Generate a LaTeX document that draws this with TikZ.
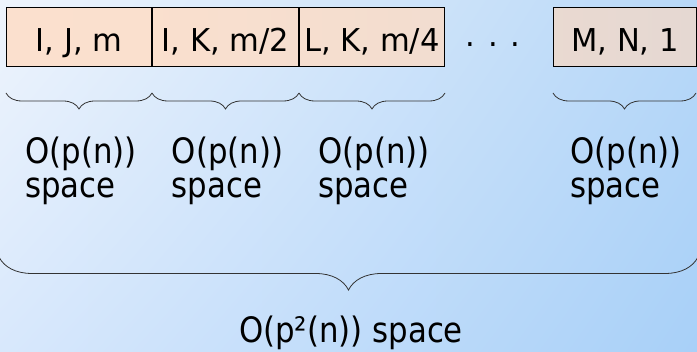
\documentclass[tikz,border=0pt]{standalone}
\usepackage{fontspec}
\setmainfont{DejaVu Sans}
\newfontfamily\cellfont{DejaVu Sans}[FakeStretch=0.97]
\newfontfamily\notefont{DejaVu Sans}[FakeStretch=0.88]
\usetikzlibrary{decorations.pathreplacing,calc,shadings}
\definecolor{bgA}{HTML}{EEF4FC}
\definecolor{bgB}{HTML}{B8D8F8}
\definecolor{bgC}{HTML}{D8E8FC}
\definecolor{bgD}{HTML}{A8D0F8}
\definecolor{peachL}{HTML}{FBE0CE}
\definecolor{peachR}{HTML}{E5D8D2}
\tikzset{
  cell/.style={draw=black, line width=1pt, minimum height=59pt, inner sep=0pt,
    text height=31pt, text depth=2pt, anchor=north west,
    font=\cellfont\fontsize{31.5}{34}\selectfont},
  curly/.style={decorate, decoration={brace, mirror, amplitude=#1},
    draw=black!80, line width=0.8pt},
  note/.style={align=left, anchor=north, inner sep=0pt,
    font=\notefont\fontsize{35}{34}\selectfont}
}
\begin{document}
\begin{tikzpicture}[x=1pt, y=1pt]
  \useasboundingbox (0,0) rectangle (697,352);
  \shade[upper left=bgA, upper right=bgB, lower left=bgC, lower right=bgD]
    (0,0) rectangle (697,352);
  % the cells
  \node[cell, minimum width=145pt, left color=peachL, right color=peachL!95!peachR] (c1) at (6,345) {I, J, m};
  \node[cell, minimum width=146pt, left color=peachL!95!peachR, right color=peachL!78!peachR] (c2) at (c1.north east) {I, K, m/2};
  \node[cell, minimum width=145pt, left color=peachL!78!peachR, right color=peachL!58!peachR] (c3) at (c2.north east) {L, K, m/4};
  \node[font=\cellfont\fontsize{31.5}{34}\selectfont, anchor=base] (dots) at (493,305) {. . .};
  \node[cell, minimum width=143pt, left color=peachL!20!peachR, right color=peachR] (c4) at (553,345) {M, N, 1};
  % small braces
  \coordinate (b0) at ($(c1.south west)+(0,-26)$);
  \coordinate (b1) at ($(c1.south east)+(0,-26)$);
  \coordinate (b2) at ($(c2.south east)+(0,-26)$);
  \coordinate (b3) at ($(c3.south east)+(0,-26)$);
  \coordinate (b4) at ($(c4.south west)+(0,-26)$);
  \coordinate (b5) at ($(c4.south east)+(-1,-26)$);
  \draw[curly=16pt] (b0) -- (b1);
  \draw[curly=16pt] (b1) -- (b2);
  \draw[curly=16pt] (b2) -- (b3);
  \draw[curly=16pt] (b4) -- (b5);
  \node[note] (n1) at ($(c1.south)+(2,-70)$) {O(p(n))\\space};
  \node[note] (n2) at ($(c2.south)+(2,-70)$) {O(p(n))\\space};
  \node[note] (n3) at ($(c3.south)+(2,-70)$) {O(p(n))\\space};
  \node[note] (n4) at ($(c4.south)+(1,-70)$) {O(p(n))\\space};
  % big brace
  \coordinate (w0) at (-1,95);
  \coordinate (w1) at (698,95);
  \draw[curly=33pt] (w0) -- (w1);
  \node[font=\notefont\fontsize{35}{34}\selectfont, anchor=base] (total) at (351,9) {O(p²(n)) space};
\end{tikzpicture}
\end{document}
